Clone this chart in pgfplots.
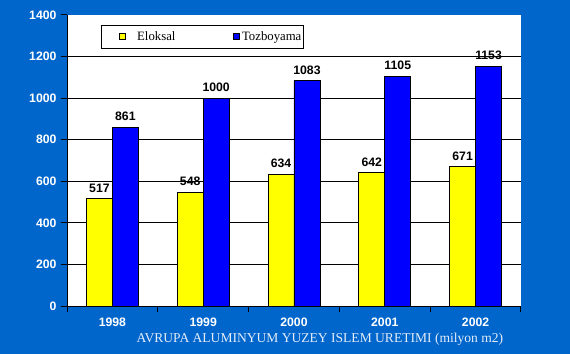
\documentclass[border=0pt]{standalone}
\usepackage{pgfplots}
\pgfplotsset{compat=1.18}
\usepackage{fontspec}
\setmainfont{Liberation Sans}
\newfontfamily\timesfont{Liberation Serif}
\definecolor{bg}{HTML}{0066CC}
\definecolor{yel}{HTML}{FFFF00}
\definecolor{blu}{HTML}{0000FF}
\definecolor{ttl}{HTML}{E4ECF8}
\begin{document}
\begin{tikzpicture}
\fill[bg] (-67bp,-48bp) rectangle (503bp,306bp);
\useasboundingbox (-67bp,-48bp) rectangle (503bp,306bp);
\begin{axis}[
  at={(0,0)}, anchor=south west,
  scale only axis, width=454bp, height=291bp,
  xmin=-0.5, xmax=4.5, ymin=0, ymax=1400,
  axis background/.style={fill=white},
  ybar=0pt, bar width=0.286,
  axis x line*=bottom, axis y line*=left,
  axis line style={black, line width=1bp},
  xtick={-0.5,0.5,1.5,2.5,3.5,4.5}, xticklabels={},
  extra x ticks={0,1,2,3,4},
  extra x tick labels={1998,1999,2000,2001,2002},
  extra x tick style={major tick length=0pt, tick label style={inner ysep=0pt, yshift=-12bp}},
  ytick={0,200,...,1400},
  extra y ticks={200,400,...,1200}, extra y tick labels={},
  extra y tick style={grid=major, major tick length=0pt},
  major grid style={black, line width=1bp},
  major tick length=6bp,
  tick align=outside,
  tick style={black, line width=1bp},
  ticklabel style={font=\fontsize{12.3}{12}\selectfont\bfseries, text=white},
  yticklabel style={xshift=-1bp},
  /pgf/number format/assume math mode=true,
  /pgf/number format/1000 sep={},
  nodes near coords,
  every node near coord/.append style={font=\fontsize{12.3}{12}\selectfont\bfseries, text=black, yshift=2.5bp},
  xlabel={AVRUPA ALUMINYUM YUZEY ISLEM URETIMI (milyon m2)},
  xlabel style={font=\timesfont\fontsize{13.6}{14}\selectfont, text=ttl, inner sep=0pt, at={(axis description cs:0.557,0)}, anchor=base, yshift=-36.5bp},
  legend columns=2,
  legend style={at={(axis description cs:0.0749,0.9656)}, anchor=north west, draw=black, line width=1bp, fill=white,
    font=\timesfont\fontsize{12.8}{13}\selectfont, inner xsep=2.3bp, inner ysep=4.5bp,
    nodes={inner xsep=0pt},
    /tikz/every even column/.append style={column sep=58bp}},
]
\addplot[fill=yel, draw=black, line width=0.8bp,
  legend image code/.code={\path[draw=none,fill=none] (-15.7bp,0) rectangle (17.7bp,0); \draw[fill=yel, draw=black, line width=0.6bp] (0bp,-2bp) rectangle (6bp,4bp);}]
  coordinates {(0,517) (1,548) (2,634) (3,642) (4,671)};
\addplot[fill=blu, draw=black, line width=0.8bp,
  legend image code/.code={\path[draw=none,fill=none] (0bp,0) rectangle (8.3bp,0); \draw[fill=blu, draw=black, line width=0.6bp] (0bp,-2bp) rectangle (6bp,4bp);}]
  coordinates {(0,861) (1,1000) (2,1083) (3,1105) (4,1153)};
\legend{Eloksal,Tozboyama}
\end{axis}
\end{tikzpicture}
\end{document}
